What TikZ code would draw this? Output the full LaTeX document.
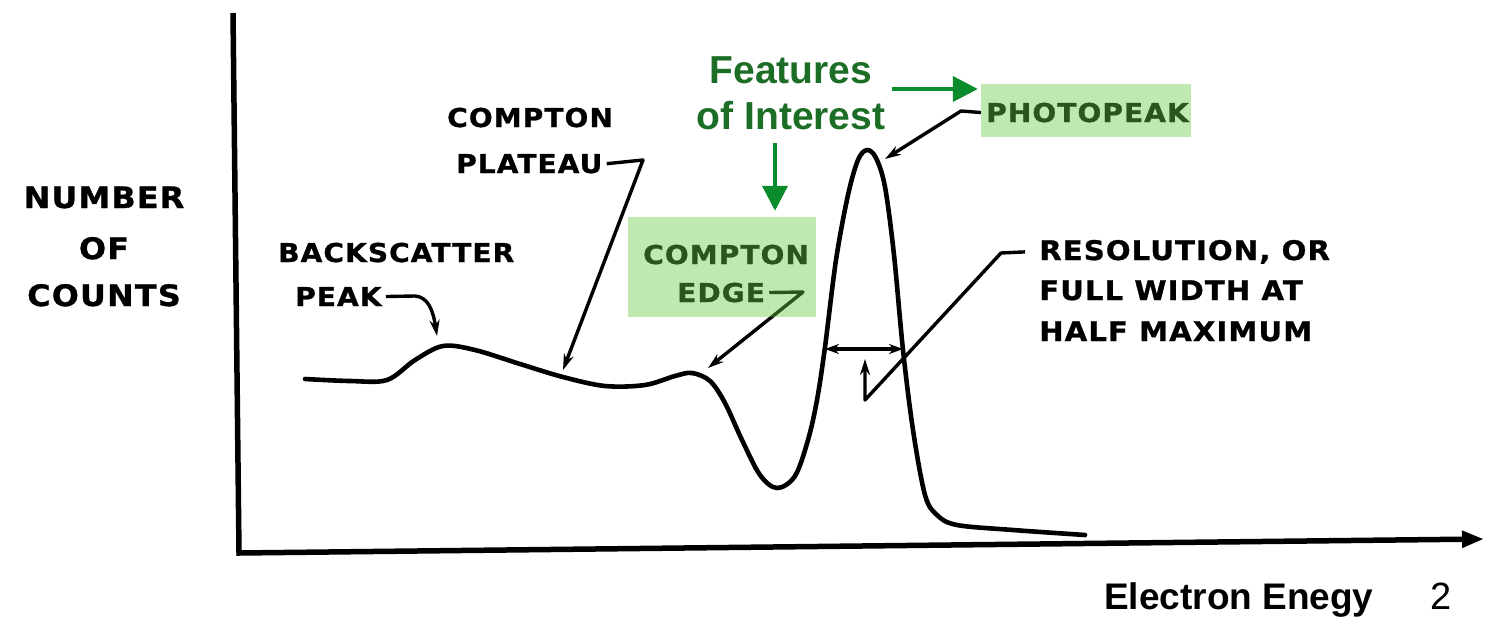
\documentclass[tikz,border=0pt]{standalone}
\usepackage{fontspec}
\setmainfont{Liberation Sans}
\newfontfamily\oldlbl[LetterSpace=4,FakeStretch=1.08,FakeBold=1]{DejaVu Sans}
\newfontfamily\hvfont{Liberation Sans}
\usetikzlibrary{arrows.meta}
\definecolor{gtext}{RGB}{28,110,38}
\definecolor{garrow}{RGB}{10,140,45}
\definecolor{hl}{rgb}{0.42,0.79,0.28}
\tikzset{
  lblA/.style={font=\oldlbl\bfseries\fontsize{26}{30}\selectfont, inner sep=0pt, anchor=base west},
  lblB/.style={font=\oldlbl\bfseries\fontsize{27}{32}\selectfont, inner sep=0pt, anchor=base west},
  lblY/.style={font=\oldlbl\bfseries\fontsize{29.5}{36}\selectfont, inner sep=0pt, anchor=base},
  leader/.style={line width=3.4pt, line join=round, -{Stealth[length=16pt,width=10pt]}},
  curvestyle/.style={line width=4.6pt, line cap=round, line join=round},
  axisstyle/.style={line width=5.5pt, line join=miter, -{Triangle[length=22pt,width=16pt]}},
  hlbox/.style={fill=hl, fill opacity=0.42, inner sep=0pt, draw=none},
  garrowst/.style={draw=garrow, line width=4pt, -{Triangle[length=25pt,width=25pt]}},
  gtxt/.style={font=\hvfont\bfseries\fontsize{39}{44}\selectfont, text=gtext, inner sep=0pt, anchor=base},
}
\begin{document}
\begin{tikzpicture}[x=1pt,y=-1pt]
\useasboundingbox (0,0) rectangle (1485,618);
\fill[white] (0,0) rectangle (1485,618);

% axes
\coordinate (ytop) at (233,13);
\coordinate (origin) at (239,553);
\coordinate (xend) at (1484,539);
\draw[axisstyle] (ytop) -- (origin) -- (xend);

% spectrum curve
\draw[curvestyle] plot[smooth, tension=0.55] coordinates {
 (305,379) (350,381) (387,380) (415,360) (443,346) (475,350) (520,364)
 (563,377) (605,386) (645,385) (675,376) (692,373) (710,381) (725,403)
 (742,440) (760,475) (777,488) (795,476) (808,440) (817,400) (825,347)
 (836,260) (848,195) (858,160) (867,150) (876,158) (885,187) (894,255)
 (903,350) (913,430) (925,495) (937,515) (957,525) (1013,530) (1085,535)};

% y label
\node[lblY] (yl1) at (104,208) {NUMBER};
\node[lblY] (yl2) at (104,259) {OF};
\node[lblY] (yl3) at (104,306) {COUNTS};

% backscatter
\node[lblA] (bs1) at (278,262) {BACKSCATTER};
\node[lblA] (bs2) at (295,306) {PEAK};
\coordinate (bsB) at (415,296);
\coordinate (bsT) at (437,336);
\draw[leader] ([xshift=4pt]bs2.east) -- (bsB) .. controls (428,297) and (433,310) .. (bsT);

% compton plateau
\node[lblA] (pl1) at (447,127) {COMPTON};
\node[lblA] (pl2) at (456,173) {PLATEAU};
\coordinate (plB) at (643,160);
\coordinate (plT) at (563,370);
\draw[leader] ([xshift=4pt]pl2.east) -- (plB) -- (plT);

% compton edge
\node[lblA] (ce1) at (643,264) {COMPTON};
\node[lblA] (ce2) at (677,302) {EDGE};
\coordinate (ceB) at (803,292);
\coordinate (ceT) at (708,368);
\draw[leader] ([xshift=4pt]ce2.east) -- (ceB) -- (ceT);

% photopeak
\node[lblA] (pp) at (986,122) {PHOTOPEAK};
\coordinate (ppB) at (961,111);
\coordinate (ppT) at (885,159);
\draw[leader] ([xshift=-5pt]pp.west) -- (ppB) -- (ppT);

% resolution
\node[lblB] (rs1) at (1039,260) {RESOLUTION, OR};
\node[lblB] (rs2) at (1039,300) {FULL WIDTH AT};
\node[lblB] (rs3) at (1039,341) {HALF MAXIMUM};
\coordinate (rsB) at (1001,253);
\coordinate (rsC) at (865,400);
\coordinate (rsT) at (865,359);
\draw[leader] ([xshift=-14pt]rs1.west) -- (rsB) -- (rsC) -- (rsT);

% FWHM bar
\coordinate (fwL) at (825,349);
\coordinate (fwR) at (903,349);
\draw[line width=3.4pt, {Stealth[length=14pt,width=10pt]}-{Stealth[length=14pt,width=10pt]}] (fwL) -- (fwR);

% highlight boxes
\node[hlbox, minimum width=188pt, minimum height=100pt] (cebox) at (722,267) {};
\node[hlbox, minimum width=210pt, minimum height=53pt] (ppbox) at (1086,110.5) {};

% features of interest
\node[gtxt] (fi1) at (791,83) {Features};
\node[gtxt] (fi2) at (791,129) {of Interest};
\coordinate (gaH) at (892,89);
\coordinate (gaV) at (775,143);
\draw[garrowst] (gaH) -- ([xshift=-3pt,yshift=21.5pt]ppbox.west);
\draw[garrowst] (gaV) -- ([xshift=53pt,yshift=6pt]cebox.north);

% axis title and page number
\node[font=\hvfont\bfseries\fontsize{37}{42}\selectfont, inner sep=0pt, anchor=base west] (xt) at (1104,609) {Electron Enegy};
\node[font=\hvfont\fontsize{38}{42}\selectfont, inner sep=0pt, anchor=base west] (pg) at (1430,609) {2};
\end{tikzpicture}
\end{document}
